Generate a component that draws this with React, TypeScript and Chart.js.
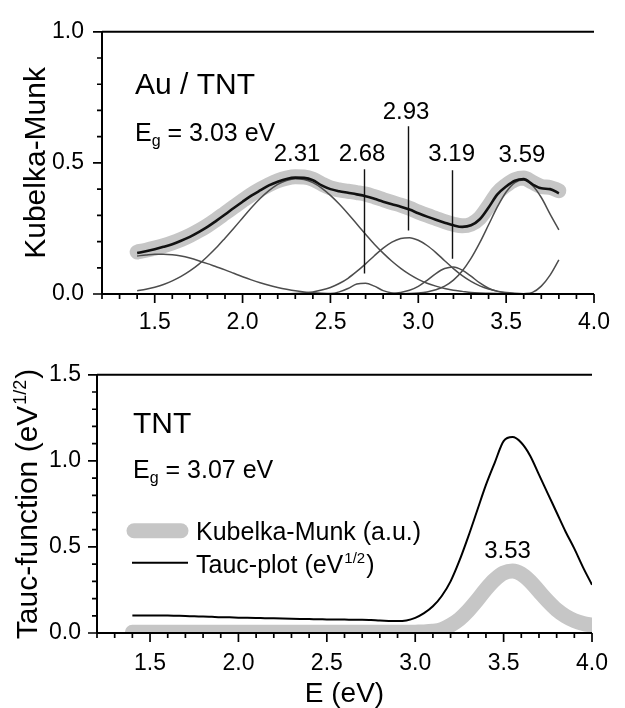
import React, { useEffect, useRef } from 'react';
import { Chart, registerables } from 'chart.js';

Chart.register(...registerables);

const FONT = '"Liberation Sans", Arial, Helvetica, sans-serif';

// ---------------- Top panel: Au / TNT ----------------
const E_AU = [
  1.40, 1.45, 1.50, 1.55, 1.60, 1.65, 1.70, 1.75, 1.80, 1.85,
  1.90, 1.95, 2.00, 2.05, 2.10, 2.15, 2.20, 2.25, 2.30, 2.35,
  2.40, 2.45, 2.50, 2.55, 2.60, 2.65, 2.70, 2.75, 2.80, 2.85,
  2.90, 2.95, 3.00, 3.05, 3.10, 3.15, 3.20, 3.25, 3.30, 3.35,
  3.40, 3.45, 3.50, 3.55, 3.60, 3.65, 3.70, 3.75, 3.80,
];

const KM_AU_MEASURED = [
  0.160, 0.167, 0.175, 0.184, 0.195, 0.208, 0.223, 0.241, 0.261, 0.284,
  0.308, 0.332, 0.356, 0.379, 0.399, 0.417, 0.432, 0.442, 0.447, 0.446,
  0.438, 0.420, 0.405, 0.397, 0.392, 0.387, 0.381, 0.371, 0.360, 0.349,
  0.339, 0.327, 0.313, 0.300, 0.288, 0.276, 0.266, 0.260, 0.266, 0.290,
  0.335, 0.385, 0.415, 0.436, 0.442, 0.426, 0.410, 0.406, 0.394,
];

const KM_AU_FIT = [
  0.156, 0.163, 0.171, 0.180, 0.190, 0.203, 0.218, 0.236, 0.256, 0.279,
  0.303, 0.328, 0.352, 0.375, 0.395, 0.414, 0.428, 0.439, 0.444, 0.443,
  0.434, 0.414, 0.400, 0.392, 0.386, 0.380, 0.373, 0.363, 0.352, 0.342,
  0.333, 0.322, 0.308, 0.295, 0.283, 0.272, 0.262, 0.256, 0.262, 0.285,
  0.330, 0.380, 0.410, 0.432, 0.438, 0.418, 0.403, 0.400, 0.384,
];

const BAND_1 = [
  0.145, 0.149, 0.152, 0.152, 0.150, 0.145, 0.137, 0.127, 0.116, 0.104,
  0.092, 0.079, 0.066, 0.054, 0.043, 0.033, 0.025, 0.018, 0.012, 0.008,
  0.005, 0.003, 0.002, 0.001, 0, 0, 0, 0, 0, 0,
  0, 0, 0, 0, 0, 0, 0, 0, 0, 0,
  0, 0, 0, 0, 0, 0, 0, 0, 0,
];

const BAND_2 = [
  0.012, 0.018, 0.026, 0.036, 0.050, 0.067, 0.088, 0.113, 0.143, 0.176,
  0.213, 0.251, 0.290, 0.329, 0.364, 0.394, 0.418, 0.433, 0.440, 0.437,
  0.425, 0.404, 0.376, 0.343, 0.306, 0.267, 0.228, 0.190, 0.156, 0.125,
  0.098, 0.075, 0.056, 0.041, 0.030, 0.021, 0.014, 0.010, 0.006, 0.004,
  0.003, 0.002, 0.001, 0, 0, 0, 0, 0, 0,
];

const BAND_3 = [
  0, 0, 0, 0, 0, 0, 0, 0, 0, 0,
  0, 0, 0, 0, 0, 0, 0, 0, 0, 0,
  0, 0, 0.001, 0.008, 0.021, 0.038, 0.041, 0.030, 0.013, 0.004,
  0.001, 0, 0, 0, 0, 0, 0, 0, 0, 0,
  0, 0, 0, 0, 0, 0, 0, 0, 0,
];

const BAND_4 = [
  0, 0, 0, 0, 0, 0, 0, 0, 0, 0,
  0, 0, 0, 0, 0, 0, 0, 0.001, 0.002, 0.004,
  0.008, 0.015, 0.025, 0.040, 0.060, 0.086, 0.115, 0.146, 0.175, 0.198,
  0.212, 0.215, 0.205, 0.185, 0.158, 0.127, 0.097, 0.070, 0.048, 0.031,
  0.019, 0.011, 0.006, 0.003, 0.001, 0, 0, 0, 0,
];

const BAND_5 = [
  0, 0, 0, 0, 0, 0, 0, 0, 0, 0,
  0, 0, 0, 0, 0, 0, 0, 0, 0, 0,
  0, 0, 0, 0, 0, 0, 0, 0, 0.001, 0.002,
  0.006, 0.014, 0.029, 0.052, 0.078, 0.097, 0.103, 0.091, 0.068, 0.042,
  0.022, 0.010, 0.004, 0.001, 0, 0, 0, 0, 0,
];

const BAND_6 = [
  0, 0, 0, 0, 0, 0, 0, 0, 0, 0,
  0, 0, 0, 0, 0, 0, 0, 0, 0, 0,
  0, 0, 0, 0, 0, 0, 0, 0, 0, 0,
  0.001, 0.002, 0.004, 0.008, 0.016, 0.030, 0.053, 0.088, 0.136, 0.196,
  0.264, 0.332, 0.389, 0.425, 0.435, 0.414, 0.368, 0.305, 0.245,
];

const BAND_7 = [
  0, 0, 0, 0, 0, 0, 0, 0, 0, 0,
  0, 0, 0, 0, 0, 0, 0, 0, 0, 0,
  0, 0, 0, 0, 0, 0, 0, 0, 0, 0,
  0, 0, 0, 0, 0, 0, 0, 0, 0, 0,
  0, 0, 0, 0, 0.001, 0.006, 0.030, 0.072, 0.130,
];

const AU_PEAKS = [2.31, 2.68, 2.93, 3.19, 3.59];
const AU_EG = '3.03';

// ---------------- Bottom panel: TNT ----------------
const E_TNT = [
  1.40, 1.45, 1.50, 1.55, 1.60, 1.65, 1.70, 1.75, 1.80, 1.85,
  1.90, 1.95, 2.00, 2.05, 2.10, 2.15, 2.20, 2.25, 2.30, 2.35,
  2.40, 2.45, 2.50, 2.55, 2.60, 2.65, 2.70, 2.75, 2.80, 2.85,
  2.90, 2.95, 3.00, 3.05, 3.10, 3.15, 3.20, 3.25, 3.30, 3.35,
  3.40, 3.45, 3.50, 3.55, 3.60, 3.65, 3.70, 3.75, 3.80, 3.85,
  3.90, 3.95, 4.00,
];

const KM_TNT = [
  0.004, 0.004, 0.004, 0.004, 0.004, 0.004, 0.004, 0.004, 0.004, 0.004,
  0.004, 0.004, 0.004, 0.004, 0.004, 0.004, 0.004, 0.004, 0.004, 0.004,
  0.004, 0.004, 0.004, 0.004, 0.004, 0.004, 0.004, 0.004, 0.004, 0.004,
  0.004, 0.004, 0.005, 0.006, 0.010, 0.020, 0.045, 0.080, 0.130, 0.190,
  0.255, 0.310, 0.348, 0.360, 0.343, 0.300, 0.242, 0.185, 0.135, 0.098,
  0.072, 0.055, 0.045,
];

const TAUC_TNT = [
  0.102, 0.102, 0.102, 0.101, 0.101, 0.100, 0.099, 0.097, 0.096, 0.094,
  0.092, 0.091, 0.089, 0.088, 0.087, 0.086, 0.085, 0.084, 0.083, 0.082,
  0.081, 0.080, 0.079, 0.078, 0.078, 0.077, 0.077, 0.075, 0.072, 0.070,
  0.069, 0.073, 0.088, 0.115, 0.155, 0.215, 0.300, 0.420, 0.560, 0.710,
  0.860, 0.990, 1.115, 1.138, 1.105, 1.030, 0.920, 0.810, 0.700, 0.590,
  0.490, 0.380, 0.280,
];

const TNT_PEAK = 3.53;
const TNT_EG = '3.07';

// ---------------- Axes ----------------
const X_MAJOR = [1.5, 2.0, 2.5, 3.0, 3.5, 4.0];
const Y_MAJOR_AU = [0, 0.5, 1.0];
const Y_MAJOR_TNT = [0, 0.5, 1.0, 1.5];

const pts = (xs: number[], ys: number[]) => xs.map((x, i) => ({ x, y: ys[i] }));
const isIn = (arr: number[], v: number) => arr.some((t) => Math.abs(t - v) < 1e-6);
const labelFor = (arr: number[]) => (v: any) => {
  const n = Number(v);
  const m = arr.find((t) => Math.abs(t - n) < 1e-6);
  return m === undefined ? '' : m.toFixed(1);
};

function drawFrame(chart: any, yMajor: number[]) {
  const { ctx, chartArea: ca, scales } = chart;
  const xs = scales.x;
  const ys = scales.y;
  ctx.save();
  ctx.strokeStyle = '#000';
  ctx.lineCap = 'butt';
  ctx.lineWidth = 2;
  ctx.beginPath();
  ctx.moveTo(ca.left, ca.top);
  ctx.lineTo(ca.left, ca.bottom);
  ctx.moveTo(ca.left, ca.bottom);
  ctx.lineTo(ca.right, ca.bottom);
  ctx.moveTo(ca.left, ca.top);
  ctx.lineTo(ca.right, ca.top);
  ctx.stroke();
  ctx.lineWidth = 1.7;
  ctx.beginPath();
  xs.ticks.forEach((t: any) => {
    const px = xs.getPixelForValue(t.value);
    const len = isIn(X_MAJOR, t.value) ? 9 : 5;
    ctx.moveTo(px, ca.bottom);
    ctx.lineTo(px, ca.bottom + len);
  });
  ys.ticks.forEach((t: any) => {
    const py = ys.getPixelForValue(t.value);
    const len = isIn(yMajor, t.value) ? 9 : 5;
    ctx.moveTo(ca.left, py);
    ctx.lineTo(ca.left - len, py);
  });
  ctx.stroke();
  ctx.restore();
}

function drawSub(ctx: any, x: number, y: number, main: string, sub: string, rest: string, size: number) {
  ctx.textAlign = 'left';
  ctx.textBaseline = 'alphabetic';
  ctx.font = `${size}px ${FONT}`;
  ctx.fillText(main, x, y);
  let cx = x + ctx.measureText(main).width;
  ctx.font = `${Math.round(size * 0.64)}px ${FONT}`;
  ctx.fillText(sub, cx, y + size * 0.22);
  cx += ctx.measureText(sub).width;
  ctx.font = `${size}px ${FONT}`;
  ctx.fillText(rest, cx, y);
}

// draws "pre" + superscript + "post" starting at x (alphabetic baseline y)
function drawSup(ctx: any, x: number, y: number, pre: string, sup: string, post: string, size: number) {
  ctx.font = `${size}px ${FONT}`;
  ctx.fillText(pre, x, y);
  let cx = x + ctx.measureText(pre).width;
  ctx.font = `${Math.round(size * 0.6)}px ${FONT}`;
  ctx.fillText(sup, cx + 1, y - size * 0.38);
  cx += ctx.measureText(sup).width + 2;
  ctx.font = `${size}px ${FONT}`;
  ctx.fillText(post, cx, y);
}

function supWidth(ctx: any, pre: string, sup: string, post: string, size: number) {
  ctx.font = `${size}px ${FONT}`;
  let w = ctx.measureText(pre).width + ctx.measureText(post).width;
  ctx.font = `${Math.round(size * 0.6)}px ${FONT}`;
  w += ctx.measureText(sup).width + 2;
  return w;
}

const auDecor = {
  id: 'auDecor',
  afterDraw(chart: any) {
    drawFrame(chart, Y_MAJOR_AU);
    const { ctx, chartArea: ca, scales } = chart;
    const xs = scales.x;
    const ys = scales.y;
    ctx.save();
    ctx.fillStyle = '#000';
    ctx.textAlign = 'left';
    ctx.textBaseline = 'alphabetic';
    ctx.font = `30px ${FONT}`;
    ctx.fillText('Au / TNT', ca.left + 33, ca.top + 62);
    drawSub(ctx, ca.left + 33, ca.top + 109, 'E', 'g', ` = ${AU_EG} eV`, 25);

    // peak labels
    const labelY = [0.506, 0.509, 0.669, 0.509, 0.502];
    ctx.font = `24px ${FONT}`;
    ctx.textAlign = 'center';
    AU_PEAKS.forEach((e, i) => {
      ctx.fillText(e.toFixed(2), xs.getPixelForValue(e), ys.getPixelForValue(labelY[i]));
    });
    // marker lines for the buried bands
    const marks = [
      { e: AU_PEAKS[1], x: 2.69, y0: 0.078, y1: 0.476 },
      { e: AU_PEAKS[2], x: 2.94, y0: 0.242, y1: 0.64 },
      { e: AU_PEAKS[3], x: 3.19, y0: 0.134, y1: 0.472 },
    ];
    ctx.strokeStyle = '#111';
    ctx.lineWidth = 1.4;
    ctx.beginPath();
    marks.forEach((m) => {
      const px = Math.round(xs.getPixelForValue(m.x)) + 0.5;
      ctx.moveTo(px, ys.getPixelForValue(m.y0));
      ctx.lineTo(px, ys.getPixelForValue(m.y1));
    });
    ctx.stroke();
    ctx.restore();
  },
};

const tntDecor = {
  id: 'tntDecor',
  afterDraw(chart: any) {
    drawFrame(chart, Y_MAJOR_TNT);
    const { ctx, chartArea: ca, scales } = chart;
    const xs = scales.x;
    const ys = scales.y;
    ctx.save();
    ctx.fillStyle = '#000';
    ctx.textAlign = 'left';
    ctx.textBaseline = 'alphabetic';
    ctx.font = `30px ${FONT}`;
    ctx.fillText('TNT', ca.left + 36, ca.top + 58);
    drawSub(ctx, ca.left + 36, ca.top + 103, 'E', 'g', ` = ${TNT_EG} eV`, 25);

    // peak label
    ctx.font = `24px ${FONT}`;
    ctx.textAlign = 'center';
    ctx.fillText(TNT_PEAK.toFixed(2), xs.getPixelForValue(3.522), ys.getPixelForValue(0.436));

    // legend
    const ds = chart.data.datasets;
    const km = ds[1];
    const tauc = ds[0];
    ctx.lineCap = 'round';
    ctx.strokeStyle = km.borderColor;
    ctx.lineWidth = km.borderWidth;
    ctx.beginPath();
    ctx.moveTo(ca.left + 37, ca.top + 156);
    ctx.lineTo(ca.left + 84, ca.top + 156);
    ctx.stroke();
    ctx.lineCap = 'butt';
    ctx.strokeStyle = tauc.borderColor;
    ctx.lineWidth = tauc.borderWidth;
    ctx.beginPath();
    ctx.moveTo(ca.left + 35, ca.top + 188);
    ctx.lineTo(ca.left + 91, ca.top + 188);
    ctx.stroke();
    ctx.textAlign = 'left';
    ctx.font = `25px ${FONT}`;
    ctx.fillText(km.label, ca.left + 99, ca.top + 165);
    drawSup(ctx, ca.left + 99, ca.top + 198, 'Tauc-plot (eV', '1/2', ')', 25);

    // y-axis title with superscript
    const pre = 'Tauc-function (eV';
    const sup = '1/2';
    const post = ')';
    const w = supWidth(ctx, pre, sup, post, 30);
    ctx.translate(37, (ca.top + ca.bottom) / 2);
    ctx.rotate(-Math.PI / 2);
    drawSup(ctx, -w / 2, 0, pre, sup, post, 30);
    ctx.restore();
  },
};

const lineDs = (label: string, data: any[], color: string, width: number, extra: any = {}) => ({
  label,
  data,
  borderColor: color,
  backgroundColor: color,
  borderWidth: width,
  pointRadius: 0,
  pointHoverRadius: 0,
  fill: false,
  cubicInterpolationMode: 'monotone',
  borderJoinStyle: 'round',
  ...extra,
});

const BAND_COLOR = '#4d4d4d';
const GRAY = '#c6c6c6';

function topConfig(): any {
  return {
    type: 'line',
    data: {
      datasets: [
        lineDs('Fit', pts(E_AU, KM_AU_FIT), '#111111', 2.6),
        lineDs('Band 1', pts(E_AU, BAND_1), BAND_COLOR, 1.5),
        lineDs('Band 2', pts(E_AU, BAND_2), BAND_COLOR, 1.5),
        lineDs('Band 3', pts(E_AU, BAND_3), BAND_COLOR, 1.5),
        lineDs('Band 4', pts(E_AU, BAND_4), BAND_COLOR, 1.5),
        lineDs('Band 5', pts(E_AU, BAND_5), BAND_COLOR, 1.5),
        lineDs('Band 6', pts(E_AU, BAND_6), BAND_COLOR, 1.5),
        lineDs('Band 7', pts(E_AU, BAND_7), BAND_COLOR, 1.5),
        lineDs('Kubelka-Munk', pts(E_AU, KM_AU_MEASURED), GRAY, 15, { borderCapStyle: 'round' }),
      ],
    },
    options: {
      responsive: false,
      animation: false,
      devicePixelRatio: 1,
      layout: { padding: { top: 25, right: 18, left: 0, bottom: 0 } },
      plugins: { legend: { display: false }, tooltip: { enabled: false } },
      events: [],
      scales: {
        x: {
          type: 'linear',
          min: 1.2,
          max: 4.0,
          afterFit: (s: any) => { s.height = 51; },
          grid: { display: false, drawTicks: false },
          border: { display: false },
          ticks: {
            stepSize: 0.1,
            autoSkip: false,
            maxRotation: 0,
            minRotation: 0,
            padding: 15,
            color: '#000',
            font: { family: FONT, size: 23 },
            callback: labelFor(X_MAJOR),
          },
        },
        y: {
          type: 'linear',
          min: 0,
          max: 1.0,
          afterFit: (s: any) => { s.width = 102; },
          grid: { display: false, drawTicks: false },
          border: { display: false },
          ticks: {
            stepSize: 0.1,
            autoSkip: false,
            padding: 18,
            color: '#000',
            font: { family: FONT, size: 23 },
            callback: labelFor(Y_MAJOR_AU),
          },
          title: {
            display: true,
            text: 'Kubelka-Munk',
            color: '#000',
            font: { family: FONT, size: 30 },
            padding: { top: 19, bottom: 0 },
          },
        },
      },
    },
    plugins: [auDecor],
  };
}

function botConfig(): any {
  return {
    type: 'line',
    data: {
      datasets: [
        lineDs('Tauc-plot (eV^1/2)', pts(E_TNT, TAUC_TNT), '#000000', 2),
        lineDs('Kubelka-Munk (a.u.)', pts(E_TNT, KM_TNT), GRAY, 15, { borderCapStyle: 'round', clip: 0 }),
      ],
    },
    options: {
      responsive: false,
      animation: false,
      devicePixelRatio: 1,
      layout: { padding: { top: 24, right: 21, left: 0, bottom: 0 } },
      plugins: { legend: { display: false }, tooltip: { enabled: false } },
      events: [],
      scales: {
        x: {
          type: 'linear',
          min: 1.2,
          max: 4.0,
          afterFit: (s: any) => { s.height = 75; },
          grid: { display: false, drawTicks: false },
          border: { display: false },
          ticks: {
            stepSize: 0.1,
            autoSkip: false,
            maxRotation: 0,
            minRotation: 0,
            padding: 17,
            color: '#000',
            font: { family: FONT, size: 23 },
            callback: labelFor(X_MAJOR),
          },
          title: {
            display: true,
            text: 'E (eV)',
            color: '#000',
            font: { family: FONT, size: 28 },
            padding: { top: 0, bottom: -3 },
          },
        },
        y: {
          type: 'linear',
          min: 0,
          max: 1.5,
          afterFit: (s: any) => { s.width = 97; },
          grid: { display: false, drawTicks: false },
          border: { display: false },
          ticks: {
            stepSize: 0.1,
            autoSkip: false,
            padding: 16,
            color: '#000',
            font: { family: FONT, size: 23 },
            callback: labelFor(Y_MAJOR_TNT),
          },
        },
      },
    },
    plugins: [tntDecor],
  };
}

export default function App() {
  const topRef = useRef<HTMLCanvasElement>(null);
  const botRef = useRef<HTMLCanvasElement>(null);
  useEffect(() => {
    const c1 = new Chart(topRef.current as HTMLCanvasElement, topConfig());
    const c2 = new Chart(botRef.current as HTMLCanvasElement, botConfig());
    return () => {
      c1.destroy();
      c2.destroy();
    };
  }, []);
  return (
    <div style={{ position: 'absolute', left: 0, top: 0, width: 625, height: 708, background: '#fff', overflow: 'hidden' }}>
      <canvas ref={topRef} width={625} height={345} style={{ position: 'absolute', left: 0, top: 0, width: 625, height: 345 }} />
      <canvas ref={botRef} width={625} height={363} style={{ position: 'absolute', left: 0, top: 345, width: 625, height: 363 }} />
    </div>
  );
}
